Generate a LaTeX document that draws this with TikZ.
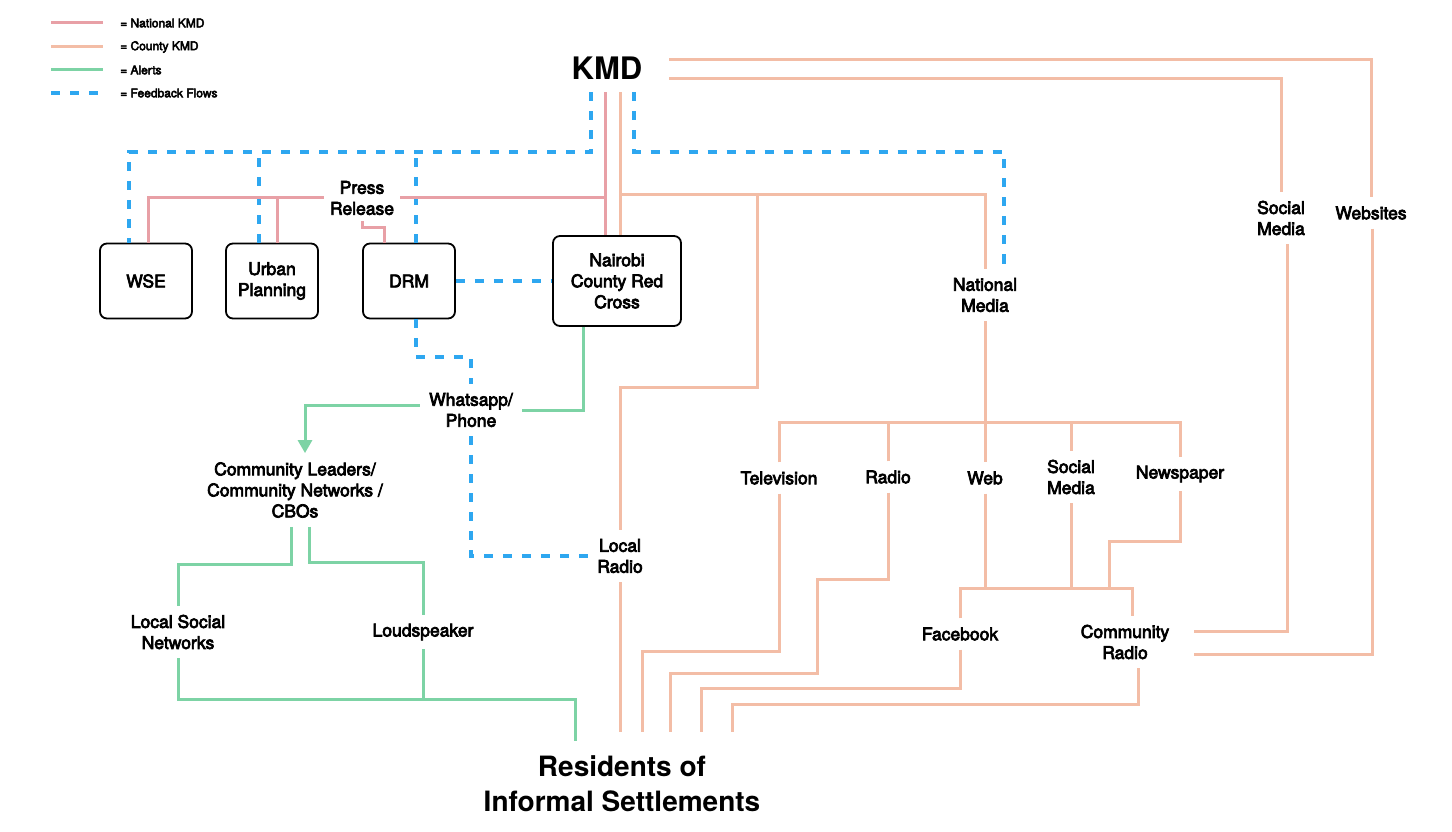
\documentclass[tikz,border=0pt]{standalone}
\usepackage{fontspec}
\setmainfont{TeX Gyre Heros}
\newfontfamily\medium[FakeBold=4]{TeX Gyre Heros}
\usepackage{tikz}
\usetikzlibrary{arrows.meta,calc}
\definecolor{natred}{HTML}{E8A0A6}
\definecolor{cntypeach}{HTML}{F3BDA6}
\definecolor{alertgreen}{HTML}{7DD3A5}
\definecolor{fbblue}{HTML}{2EA7F0}

\begin{document}
\begin{tikzpicture}[x=1pt,y=-1pt,every node/.style={align=center},lbl/.style={font=\medium\fontsize{17.5}{21}\selectfont,inner sep=9pt},box/.style={lbl,draw=black,line width=1.8pt,rounded corners=7pt,minimum width=92pt,minimum height=75pt},legend/.style={font=\medium\fontsize{12}{14}\selectfont,anchor=west,inner sep=0pt},natl/.style={draw=natred,line width=3pt},cnty/.style={draw=cntypeach,line width=3pt},alert/.style={draw=alertgreen,line width=3pt},fback/.style={draw=fbblue,line width=3.3pt,dash pattern=on 9pt off 10pt}]
\useasboundingbox (0,0) rectangle (1452,832);
\fill[white] (0,0) rectangle (1452,832);
\foreach \y/\s/\txt in {23/natl/National KMD,47/cnty/County KMD,70/alert/Alerts,93/fback/Feedback Flows}{\draw[\s] (51,\y) -- (103,\y); \node[legend] (leg\y) at (120,\y) {= \txt};}
\node[font=\bfseries\fontsize{31}{36}\selectfont,inner xsep=27pt,inner ysep=13pt] (kmd) at (607,68) {KMD};
\node[box] (wse) at (146,281) {WSE}; \node[box] (urb) at (272,281) {Urban\\Planning};
\node[box] (drm) at (409,281) {DRM}; \node[box,minimum width=128pt,minimum height=90pt] (nrc) at (617,281) {Nairobi\\County Red\\Cross};
\node[lbl,inner sep=6pt] (pr) at (362,198) {Press\\Release};
\node[lbl] (wa) at (471,410) {Whatsapp/\\Phone};
\node[lbl] (cl) at (295,490) {Community Leaders/\\Community Networks /\\CBOs};
\node[lbl] (lsn) at (178,632) {Local Social\\Networks}; \node[lbl] (loud) at (423,632) {Loudspeaker};
\node[lbl] (lr) at (620,556) {Local\\Radio};
\node[lbl] (nm) at (985,295) {National\\Media};
\node[lbl] (tv) at (779,478) {Television}; \node[lbl] (rad) at (888,477) {Radio}; \node[lbl] (web) at (985,478) {Web};
\node[lbl] (sm) at (1071,477) {Social\\Media}; \node[lbl] (np) at (1180,474) {Newspaper};
\node[lbl] (fb) at (960,634) {Facebook}; \node[lbl] (cr) at (1125,642) {Community\\Radio};
\node[lbl] (smr) at (1281,218) {Social\\Media}; \node[lbl] (webs) at (1371,213) {Websites};
\node[font=\bfseries\fontsize{28}{35}\selectfont,inner sep=15pt] (res) at (622,784) {Residents of\\Informal Settlements};
\coordinate (fbW) at (129,152); \coordinate (fbE) at (1004,152); \coordinate (waB) at (416,357);
\coordinate (natJ) at (605,198); \coordinate (cntJ) at (620,195); \coordinate (brJ) at (757,195); \coordinate (lrB) at (757,387);
\coordinate (clBL) at (291,564); \coordinate (clBR) at (309,562); \coordinate (gB) at (575,699);
\coordinate (busM) at (985,422); \coordinate (busF) at (1132,588); \coordinate (npB) at (1109,541);
\coordinate (tvB) at (642,651); \coordinate (radB) at (817,579); \coordinate (radC) at (670,673); \coordinate (fbB) at (701,688); \coordinate (crB) at (732,704);
\coordinate (wTop) at (1372,60); \coordinate (sTop) at (1281,79);
\coordinate (resTop) at ([yshift=9pt]res.north);
\draw[fback] ([xshift=-16pt]kmd.south) |- (fbW) -- ([xshift=-17pt]wse.north);
\draw[fback] ([xshift=-13pt]urb.north) -- ++(0,-91);
\draw[fback] ([xshift=7pt]drm.north) -- ++(0,-91);
\draw[fback] ([xshift=27pt]kmd.south) |- (fbE) -- (nm.north -| fbE);
\draw[fback] (drm.east) -- (nrc.west);
\draw[fback] ([xshift=7pt]drm.south) -- (waB) -| (wa.north);
\draw[fback] (wa.south) |- (lr.west);
\draw[natl] ([xshift=-2pt]kmd.south) -- ([xshift=-12pt]nrc.north);
\draw[natl] (pr.east) -- (natJ);
\draw[natl] (pr.west) -| ([xshift=2pt]wse.north);
\draw[natl] ([xshift=5pt]urb.north) -- ++(0,-45);
\draw[natl] (pr.south) -- ++(0,6) -| ([xshift=-25pt]drm.north);
\draw[cnty] ([xshift=13pt]kmd.south) -- ([xshift=3pt]nrc.north);
\draw[cnty] (cntJ) -| (nm);
\draw[cnty] (brJ) -- (lrB) -| (lr.north);
\draw[cnty] (lr.south) -- (lr.south |- resTop);
\draw[cnty] (nm.south) -- (web.north);
\draw[cnty] (tv.north) |- (busM) -| (np.north);
\draw[cnty] (rad.north) -- (rad.north |- busM);
\draw[cnty] (sm.north) -- (sm.north |- busM);
\draw[cnty] (tv.south) |- (tvB) -- (tvB |- resTop);
\draw[cnty] (rad.south) |- (radB) |- (radC) -- (radC |- resTop);
\draw[cnty] (web.south) -- (web.south |- busF);
\draw[cnty] (sm.south) -- (sm.south |- busF);
\draw[cnty] (np.south) |- (npB) -- (npB |- busF);
\draw[cnty] (fb.north) |- (busF) -- ([xshift=7pt]cr.north);
\draw[cnty] (fb.south) |- (fbB) -- (fbB |- resTop);
\draw[cnty] ([xshift=13pt]cr.south) |- (crB) -- (crB |- resTop);
\draw[cnty] (kmd.east |- wTop) -| (webs);
\draw[cnty] (kmd.east |- sTop) -| (smr);
\draw[cnty] ([xshift=6pt]smr.south) |- ([xshift=16pt,yshift=11pt]cr.east);
\draw[cnty] ([xshift=1pt]webs.south) |- ([xshift=16pt,yshift=-12pt]cr.east);
\draw[alert] ([xshift=-34pt]nrc.south) |- (wa.east);
\draw[alert,-{Triangle[width=14pt,length=13pt]}] ([yshift=5pt]wa.west) -| ([xshift=10pt]cl.north);
\draw[alert] ([xshift=-4pt]cl.south) -- (clBL) -| (lsn.north);
\draw[alert] ([xshift=14pt]cl.south) -- (clBR) -| (loud.north);
\draw[alert] (lsn.south) |- (gB) -- (gB |- res.north);
\draw[alert] (loud.south) -- (loud.south |- gB);
\end{tikzpicture}
\end{document}
